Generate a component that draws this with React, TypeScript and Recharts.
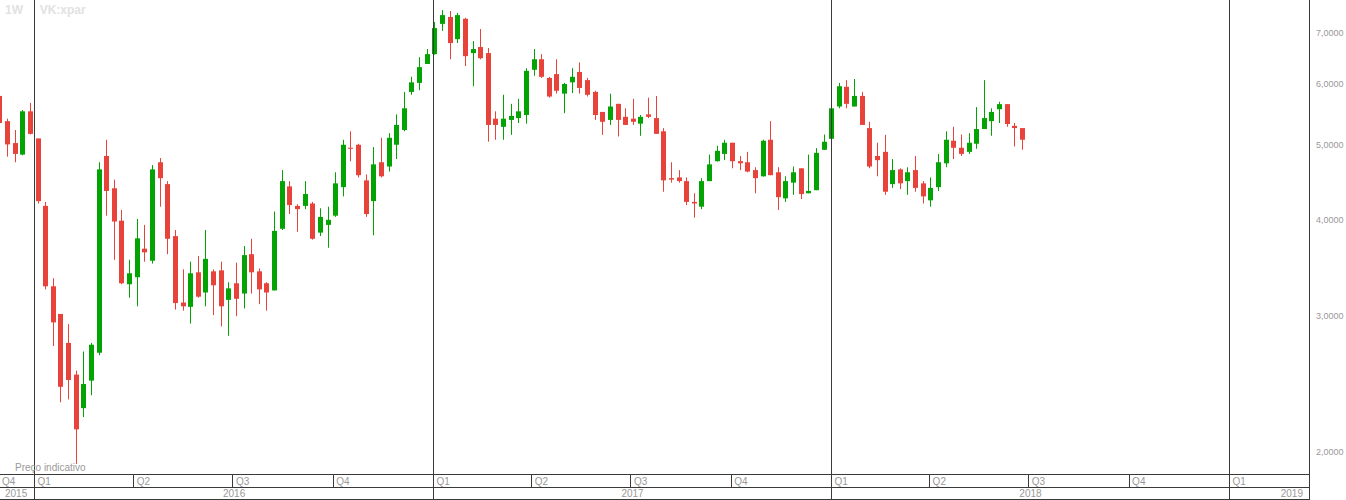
import { ComposedChart, Bar, XAxis, YAxis, ReferenceLine } from 'recharts';

// weekly candles, first one is the week of 30 Nov 2015
const firstWeek = '2015-11-30';

const opens = [
  5.79, 5.37, 5.03, 4.86, 5.53, 5.10, 4.17, 3.28, 3.02, 2.77,
  2.52, 2.28, 2.475, 2.69, 4.84, 4.395, 3.99, 3.30, 3.37, 3.67,
  3.54, 4.75, 4.45, 3.81, 3.125, 3.085, 3.42, 3.22, 3.43, 3.44,
  3.15, 3.31, 3.21, 3.61, 3.43, 3.31, 3.24, 3.895, 4.42, 4.17,
  4.17, 4.20, 3.85, 3.94, 4.05, 4.41, 4.96, 5.005, 4.50, 4.23,
  4.75, 4.69, 5.005, 5.23, 5.86, 6.02, 6.37, 6.56, 7.18, 7.33,
  6.86, 7.29, 6.58, 6.70, 6.58, 5.41, 5.28, 5.39, 5.42, 5.47,
  6.26, 6.46, 6.11, 6.18, 5.83, 6.03, 6.22, 6.07, 5.86, 5.52,
  5.39, 5.655, 5.44, 5.41, 5.33, 5.48, 5.42, 5.21, 4.53, 4.54,
  4.49, 4.22, 4.16, 4.49, 4.765, 4.87, 5.035, 4.765, 4.75, 4.64,
  4.555, 5.08, 4.61, 4.265, 4.47, 4.665, 4.33, 4.37, 4.93, 5.095,
  5.61, 5.95, 5.61, 5.79, 5.26, 4.84, 4.90, 4.45, 4.65, 4.49,
  4.64, 4.46, 4.24, 4.41, 4.735, 5.065, 4.96, 4.90, 5.02, 5.245,
  5.37, 5.565, 5.65, 5.295, 5.26,
];
const highs = [
  5.89, 5.41, 5.23, 5.55, 5.67, 5.10, 4.22, 3.36, 3.02, 2.93,
  2.55, 2.70, 2.77, 4.75, 5.08, 4.51, 4.12, 3.55, 4.01, 3.94,
  4.71, 4.81, 4.49, 3.88, 3.45, 3.53, 3.59, 3.88, 3.45, 3.53,
  3.32, 3.52, 3.70, 3.78, 3.46, 3.32, 4.10, 4.64, 4.49, 4.19,
  4.49, 4.22, 4.14, 4.16, 4.61, 5.08, 5.21, 5.02, 4.58, 4.97,
  5.11, 5.18, 5.48, 5.86, 6.13, 6.50, 6.66, 7.22, 7.48, 7.46,
  7.42, 7.31, 6.82, 7.07, 6.68, 5.53, 5.81, 5.655, 5.74, 6.29,
  6.66, 6.56, 6.13, 6.46, 6.02, 6.29, 6.40, 6.11, 5.88, 5.52,
  5.83, 5.655, 5.58, 5.74, 5.47, 5.76, 5.79, 5.26, 4.75, 4.64,
  4.54, 4.33, 4.53, 4.86, 4.99, 5.08, 5.035, 4.84, 4.90, 4.68,
  5.08, 5.37, 4.68, 4.555, 4.69, 4.665, 4.86, 4.955, 5.16, 5.64,
  6.02, 6.07, 6.09, 5.86, 5.36, 5.035, 5.155, 4.795, 4.665, 4.68,
  4.84, 4.49, 4.54, 4.87, 5.21, 5.28, 5.16, 5.18, 5.60, 6.07,
  5.58, 5.69, 5.65, 5.34, 5.26,
];
const lows = [
  5.31, 4.83, 4.75, 4.85, 5.16, 4.20, 3.25, 2.745, 2.32, 2.34,
  1.93, 2.22, 2.37, 2.67, 4.05, 3.55, 3.30, 3.17, 3.09, 3.53,
  3.51, 4.16, 3.61, 3.06, 3.05, 2.935, 3.17, 3.09, 3.01, 2.91,
  2.83, 3.00, 3.07, 3.21, 3.11, 3.05, 3.24, 3.88, 4.07, 3.86,
  4.13, 3.77, 3.81, 3.68, 4.035, 4.29, 4.765, 4.54, 4.035, 3.82,
  4.54, 4.62, 4.795, 5.21, 5.81, 5.89, 6.37, 6.55, 7.03, 6.46,
  6.78, 6.33, 5.96, 6.46, 5.05, 5.08, 5.08, 5.155, 5.34, 5.33,
  6.15, 6.11, 5.76, 5.83, 5.50, 5.84, 5.83, 5.78, 5.39, 5.155,
  5.31, 5.13, 5.31, 5.31, 5.14, 5.42, 5.17, 4.35, 4.47, 4.47,
  4.18, 4.025, 4.13, 4.49, 4.76, 4.78, 4.665, 4.64, 4.61, 4.33,
  4.55, 4.57, 4.12, 4.22, 4.31, 4.255, 4.33, 4.37, 4.93, 5.05,
  5.58, 5.58, 5.61, 5.31, 4.665, 4.555, 4.31, 4.40, 4.385, 4.31,
  4.35, 4.20, 4.16, 4.36, 4.68, 4.795, 4.84, 4.87, 4.945, 5.245,
  5.14, 5.34, 5.28, 4.98, 4.93,
];
const closes = [
  5.34, 5.01, 4.87, 5.53, 5.17, 4.23, 3.28, 2.945, 2.43, 2.48,
  2.14, 2.45, 2.755, 4.65, 4.36, 3.98, 3.31, 3.41, 3.785, 3.63,
  4.65, 4.53, 3.78, 3.12, 3.09, 3.41, 3.18, 3.56, 3.29, 3.09,
  3.26, 3.16, 3.60, 3.42, 3.25, 3.22, 3.87, 4.49, 4.18, 4.13,
  4.32, 3.78, 4.035, 4.00, 4.46, 5.005, 4.945, 4.57, 4.07, 4.72,
  4.555, 5.11, 5.31, 5.58, 6.03, 6.31, 6.56, 7.09, 7.37, 6.78,
  7.37, 6.52, 6.66, 6.48, 5.31, 5.31, 5.41, 5.455, 5.53, 6.24,
  6.46, 6.13, 5.78, 5.88, 6.00, 6.13, 5.93, 5.81, 5.47, 5.36,
  5.61, 5.39, 5.31, 5.36, 5.44, 5.44, 5.17, 4.50, 4.51, 4.49,
  4.22, 4.20, 4.49, 4.72, 4.915, 5.035, 4.765, 4.735, 4.62, 4.53,
  5.065, 4.57, 4.28, 4.49, 4.61, 4.32, 4.36, 4.885, 5.05, 5.58,
  5.96, 5.655, 5.79, 5.31, 4.69, 4.78, 4.35, 4.64, 4.46, 4.61,
  4.40, 4.29, 4.40, 4.75, 5.08, 4.96, 4.87, 5.035, 5.245, 5.42,
  5.52, 5.65, 5.325, 5.26, 5.08,
];

const priceTicks = [2, 3, 4, 5, 6, 7];
const quarterStarts = [
  '2016-01-01', '2016-04-01', '2016-07-01', '2016-10-01',
  '2017-01-01', '2017-04-01', '2017-07-01', '2017-10-01',
  '2018-01-01', '2018-04-01', '2018-07-01', '2018-10-01',
  '2019-01-01',
];
const yearStarts = ['2016-01-01', '2017-01-01', '2018-01-01', '2019-01-01'];
const years = [2015, 2016, 2017, 2018, 2019];

const GREEN = '#03a303';
const RED = '#e8433a';
const FRAME = '#3a3a3a';
const LABEL = '#999999';
const FONT = '"Liberation Sans", Arial, sans-serif';

const DAY = 86400000;
const baseMs = Date.parse(firstWeek);
const dayOf = (s: string) => (Date.parse(s) - baseMs) / DAY;

// visible time window in days from the first week
const X_MIN = 0.28;
const X_MAX = 1201;

const candles = opens.map((o, i) => ({
  t: i * 7,
  o,
  h: highs[i],
  l: lows[i],
  c: closes[i],
  range: [lows[i], highs[i]],
}));

const quarterTicks = [X_MIN, ...quarterStarts.map(dayOf), X_MAX];

const yearLabels = years.map((yr) => {
  const mid = (dayOf(`${yr}-01-01`) + dayOf(`${yr + 1}-01-01`)) / 2;
  if (mid < X_MIN) return { value: X_MIN, text: String(yr), anchor: 'start' };
  if (mid > X_MAX) return { value: X_MAX - 0.01, text: String(yr), anchor: 'end' };
  return { value: mid, text: String(yr), anchor: 'middle' };
});

function Candle(props: any) {
  const { x, y, width, height, payload } = props;
  if (x == null || y == null) return null;
  const { o, h, l, c } = payload;
  const color = c >= o ? GREEN : RED;
  const top = Math.min(y, y + height);
  const len = Math.abs(height);
  const span = Math.log(h) - Math.log(l);
  const toY = (v: number) => (span > 0 ? top + (len * (Math.log(h) - Math.log(v))) / span : top);
  const cx = Math.round(x + width / 2) + 0.5;
  const b1 = toY(Math.max(o, c));
  const b2 = toY(Math.min(o, c));
  return (
    <g>
      <line x1={cx} x2={cx} y1={top} y2={top + len} stroke={color} strokeWidth={1} />
      <rect x={cx - 2.5} y={b1} width={5} height={Math.max(1, b2 - b1)} fill={color} />
    </g>
  );
}

function QuarterTick(props: any) {
  const { x, y, payload } = props;
  const t = payload.value;
  if (t >= X_MAX - 0.5) {
    return (
      <line x1={x} x2={x} y1={y} y2={y + 26} stroke={FRAME} shapeRendering="crispEdges" />
    );
  }
  const d = new Date(baseMs + t * DAY);
  const q = Math.floor(d.getUTCMonth() / 3) + 1;
  const isEdge = t <= X_MIN + 0.01;
  return (
    <g>
      {!isEdge && (
        <line
          x1={x}
          x2={x}
          y1={y}
          y2={y + (q === 1 ? 26 : 13)}
          stroke={FRAME}
          shapeRendering="crispEdges"
        />
      )}
      <text x={isEdge ? x + 2 : x + 3} y={y + 10.5} fill={LABEL} fontSize={10} fontFamily={FONT}>
        {`Q${q}`}
      </text>
    </g>
  );
}

function YearTick(props: any) {
  const { x, y, payload } = props;
  const item = yearLabels.find((it) => Math.abs(it.value - payload.value) < 0.5);
  if (!item) return null;
  const tx = item.anchor === 'start' ? x + 5 : item.anchor === 'end' ? x - 6 : x;
  return (
    <text x={tx} y={y + 10} fill={LABEL} fontSize={10} fontFamily={FONT} textAnchor={item.anchor}>
      {item.text}
    </text>
  );
}

const crispAxis = { stroke: FRAME, shapeRendering: 'crispEdges' };

export default function App() {
  return (
    <div style={{ position: 'fixed', left: 0, top: 0, width: 1346, height: 500, background: '#fff' }}>
      <ComposedChart
        width={1346}
        height={500}
        data={candles}
        margin={{ top: 0, right: 0, bottom: 1, left: 0 }}
      >
        <XAxis
          xAxisId="q"
          type="number"
          dataKey="t"
          domain={[X_MIN, X_MAX]}
          allowDataOverflow
          ticks={quarterTicks}
          interval={0}
          height={13}
          tickSize={0}
          tickMargin={0}
          tickLine={false}
          axisLine={crispAxis}
          tick={<QuarterTick />}
        />
        <XAxis
          xAxisId="yr"
          type="number"
          dataKey="t"
          domain={[X_MIN, X_MAX]}
          allowDataOverflow
          ticks={yearLabels.map((it) => it.value)}
          interval={0}
          height={12}
          tickSize={0}
          tickMargin={0}
          tickLine={false}
          axisLine={crispAxis}
          tick={<YearTick />}
        />
        <YAxis
          orientation="right"
          scale="log"
          domain={[1.873, 7.71]}
          allowDataOverflow
          ticks={priceTicks}
          interval={0}
          width={37}
          tickLine={false}
          tickMargin={1}
          axisLine={crispAxis}
          tick={{ fill: LABEL, fontSize: 9, fontFamily: FONT }}
          tickFormatter={(v: number) => v.toFixed(4).replace('.', ',')}
        />
        {yearStarts.map((s) => (
          <ReferenceLine
            key={s}
            xAxisId="q"
            x={dayOf(s)}
            stroke={FRAME}
            shapeRendering="crispEdges"
            ifOverflow="hidden"
          />
        ))}
        <Bar
          xAxisId="q"
          dataKey="range"
          barSize={5}
          shape={<Candle />}
          isAnimationActive={false}
        />
      </ComposedChart>
      <div
        style={{
          position: 'absolute',
          left: 0,
          top: 499,
          width: 1309,
          height: 1,
          background: FRAME,
        }}
      />
      <div
        style={{
          position: 'absolute',
          left: 5,
          top: 3,
          fontFamily: FONT,
          fontSize: 12,
          fontWeight: 'bold',
          color: '#e2e2e2',
          whiteSpace: 'pre',
        }}
      >
        {'1W     VK:xpar'}
      </div>
      <div
        style={{
          position: 'absolute',
          left: 15,
          top: 462,
          fontFamily: FONT,
          fontSize: 10,
          color: LABEL,
        }}
      >
        Preço indicativo
      </div>
    </div>
  );
}
